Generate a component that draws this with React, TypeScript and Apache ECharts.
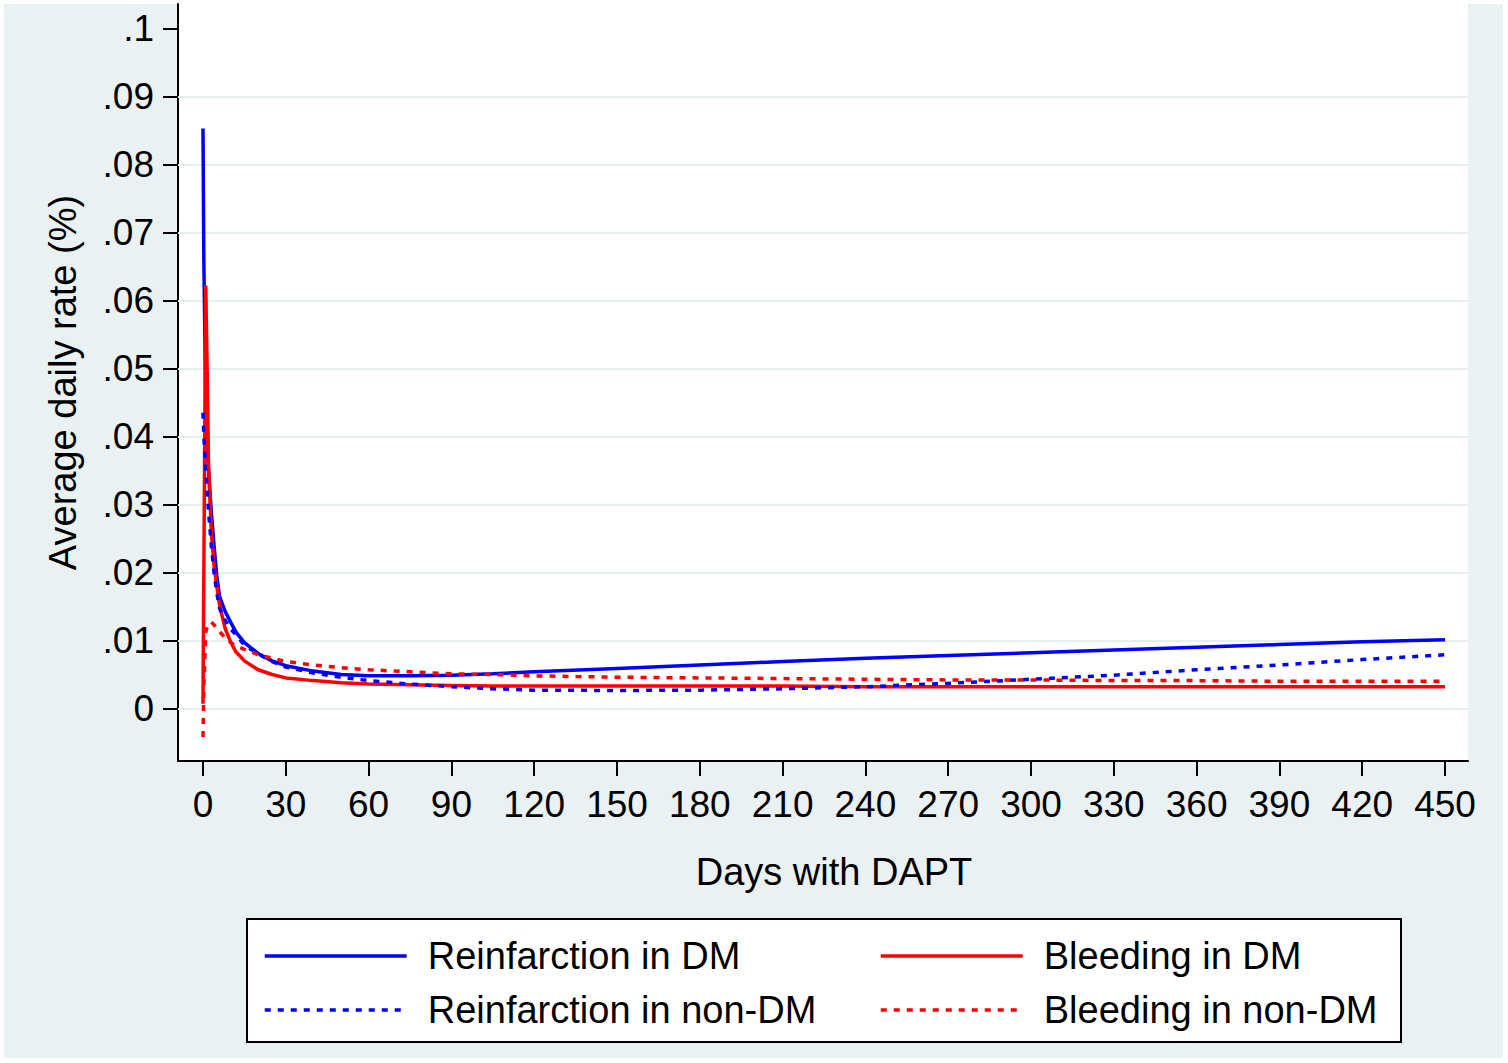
import React, { useEffect, useRef } from "react";
import * as echarts from "echarts";

const FONT = "'Liberation Sans', Arial, Helvetica, sans-serif";

const days = [0, 0.3, 1, 1.5, 2, 3, 4, 5, 6, 8, 10, 12, 15, 20, 25, 30, 40, 50, 60, 75, 90, 105, 120, 150, 180, 210, 240, 270, 300, 330, 360, 390, 420, 450];

const reinfarctionDM = [0.0853, 0.066, 0.045, 0.039, 0.035, 0.029, 0.024, 0.0195, 0.0165, 0.0143, 0.0127, 0.0112, 0.0097, 0.0081, 0.0070, 0.0063, 0.0055, 0.0050, 0.0048, 0.0048, 0.0049, 0.0051, 0.0054, 0.0059, 0.0064, 0.0069, 0.0074, 0.0078, 0.0082, 0.0086, 0.0090, 0.0094, 0.0098, 0.0101];

const bleedingDM = [0.0007, 0.020, 0.0622, 0.050, 0.036, 0.026, 0.021, 0.018, 0.0152, 0.0118, 0.0098, 0.0083, 0.0070, 0.0057, 0.0050, 0.0045, 0.0041, 0.0038, 0.0036, 0.0035, 0.0034, 0.0033, 0.0033, 0.0033, 0.0033, 0.0033, 0.0032, 0.0032, 0.0032, 0.0032, 0.0032, 0.0032, 0.0032, 0.0032];

const reinfarctionNonDM = [0.0435, 0.040, 0.035, 0.032, 0.029, 0.024, 0.020, 0.017, 0.0147, 0.0130, 0.0117, 0.0108, 0.0093, 0.0080, 0.0069, 0.0061, 0.0052, 0.0046, 0.0041, 0.0036, 0.0032, 0.0029, 0.0027, 0.00265, 0.0027, 0.0029, 0.0032, 0.0037, 0.0043, 0.0049, 0.0057, 0.0064, 0.0072, 0.0079];

const bleedingNonDM = [-0.0042, 0.003, 0.0112, 0.0120, 0.0124, 0.0127, 0.0123, 0.0118, 0.0113, 0.0104, 0.0097, 0.0092, 0.0087, 0.0079, 0.0074, 0.0069, 0.0064, 0.0060, 0.0057, 0.0054, 0.0051, 0.0050, 0.0048, 0.0046, 0.0045, 0.0044, 0.0043, 0.0042, 0.0042, 0.0041, 0.0041, 0.0040, 0.0040, 0.0040];

const xTicks = [0, 30, 60, 90, 120, 150, 180, 210, 240, 270, 300, 330, 360, 390, 420, 450];
const yTicks = [0, 0.01, 0.02, 0.03, 0.04, 0.05, 0.06, 0.07, 0.08, 0.09, 0.1];
const gridValues = [0, 0.01, 0.02, 0.03, 0.04, 0.05, 0.06, 0.07, 0.08, 0.09];

const seriesNames = ["Reinfarction in DM", "Bleeding in DM", "Reinfarction in non-DM", "Bleeding in non-DM"];

const pairs = (ys: number[]) => days.map((d, i) => [d, ys[i]]);

const fmtY = (v: number) => {
  if (Math.abs(v) < 1e-9) return "0";
  return v.toFixed(2).replace(/^0/, "").replace(/0$/, "");
};

export default function App() {
  const ref = useRef<HTMLDivElement>(null);
  useEffect(() => {
    if (!ref.current) return;
    const chart = echarts.init(ref.current, null, { renderer: "svg" });
    const blue = "#0000ff";
    const red = "#ff0000";
    const dots = [6, 7];
    const lineSeries = (name: string, ys: number[], color: string, dotted: boolean, extra: any = {}) => ({
      name,
      type: "line",
      data: pairs(ys),
      showSymbol: false,
      symbol: "none",
      smooth: false,
      z: 3,
      lineStyle: { color, width: 3.5, type: dotted ? dots : "solid" },
      itemStyle: { color },
      ...extra,
    });
    const legendBase = {
      orient: "vertical",
      top: 937,
      padding: 0,
      itemWidth: 142,
      itemHeight: 20,
      itemGap: 16,
      selectedMode: false,
      itemStyle: { opacity: 0 },
      lineStyle: { width: 3.5 },
      textStyle: { fontSize: 38, color: "#000", fontFamily: FONT, padding: [0, 0, 0, 16] },
    };
    chart.setOption({
      animation: false,
      backgroundColor: "#ffffff",
      textStyle: { fontFamily: FONT },
      graphic: [
        { type: "rect", z: -10, silent: true, shape: { x: 4, y: 4, width: 1499, height: 1054 }, style: { fill: "#eaf1f3" } },
        { type: "rect", z: -9, silent: true, shape: { x: 178, y: 4, width: 1290, height: 757 }, style: { fill: "#ffffff" } },
        { type: "rect", z: -8, silent: true, shape: { x: 247, y: 919, width: 1154, height: 123 }, style: { fill: "#ffffff", stroke: "#000000", lineWidth: 2 } },
      ],
      grid: { left: 178, top: 4, width: 1290, height: 757, containLabel: false, outerBoundsMode: "none" },
      xAxis: {
        type: "value",
        min: -25 / 2.76,
        max: 1265 / 2.76,
        axisLine: { show: true, onZero: false, lineStyle: { color: "#000", width: 2 } },
        axisTick: { show: true, length: 15, lineStyle: { color: "#000", width: 2 }, customValues: xTicks },
        axisLabel: { customValues: xTicks, margin: 25, fontSize: 37, color: "#000", fontFamily: FONT },
        splitLine: { show: false },
        name: "Days with DAPT",
        nameLocation: "middle",
        nameGap: 92,
        nameTextStyle: { fontSize: 38, color: "#000", fontFamily: FONT, padding: [0, 0, 0, 22] },
      },
      yAxis: {
        type: "value",
        min: (708.5 - 761) / 6800,
        max: (708.5 - 4) / 6800,
        axisLine: { show: true, onZero: false, lineStyle: { color: "#000", width: 2 } },
        axisTick: { show: true, length: 15, lineStyle: { color: "#000", width: 2 }, customValues: yTicks },
        axisLabel: { customValues: yTicks, margin: 24, fontSize: 37, color: "#000", fontFamily: FONT, formatter: fmtY },
        splitLine: { show: false },
        name: "Average daily rate (%)",
        nameLocation: "middle",
        nameGap: 96,
        nameTextStyle: { fontSize: 38, color: "#000", fontFamily: FONT },
      },
      legend: [
        { ...legendBase, data: [seriesNames[0], seriesNames[2]], left: 263 },
        { ...legendBase, data: [seriesNames[1], seriesNames[3]], left: 879 },
      ],
      series: [
        lineSeries(seriesNames[0], reinfarctionDM, blue, false, {
          markLine: {
            silent: true,
            z: 1,
            symbol: ["none", "none"],
            label: { show: false },
            lineStyle: { color: "#e5eef1", width: 2, type: "solid" },
            data: gridValues.map((v) => ({ yAxis: v })),
          },
        }),
        lineSeries(seriesNames[1], bleedingDM, red, false),
        lineSeries(seriesNames[2], reinfarctionNonDM, blue, true),
        lineSeries(seriesNames[3], bleedingNonDM, red, true),
      ],
    });
    return () => chart.dispose();
  }, []);
  return <div ref={ref} style={{ position: "fixed", left: 0, top: 0, width: 1508, height: 1063 }} />;
}
